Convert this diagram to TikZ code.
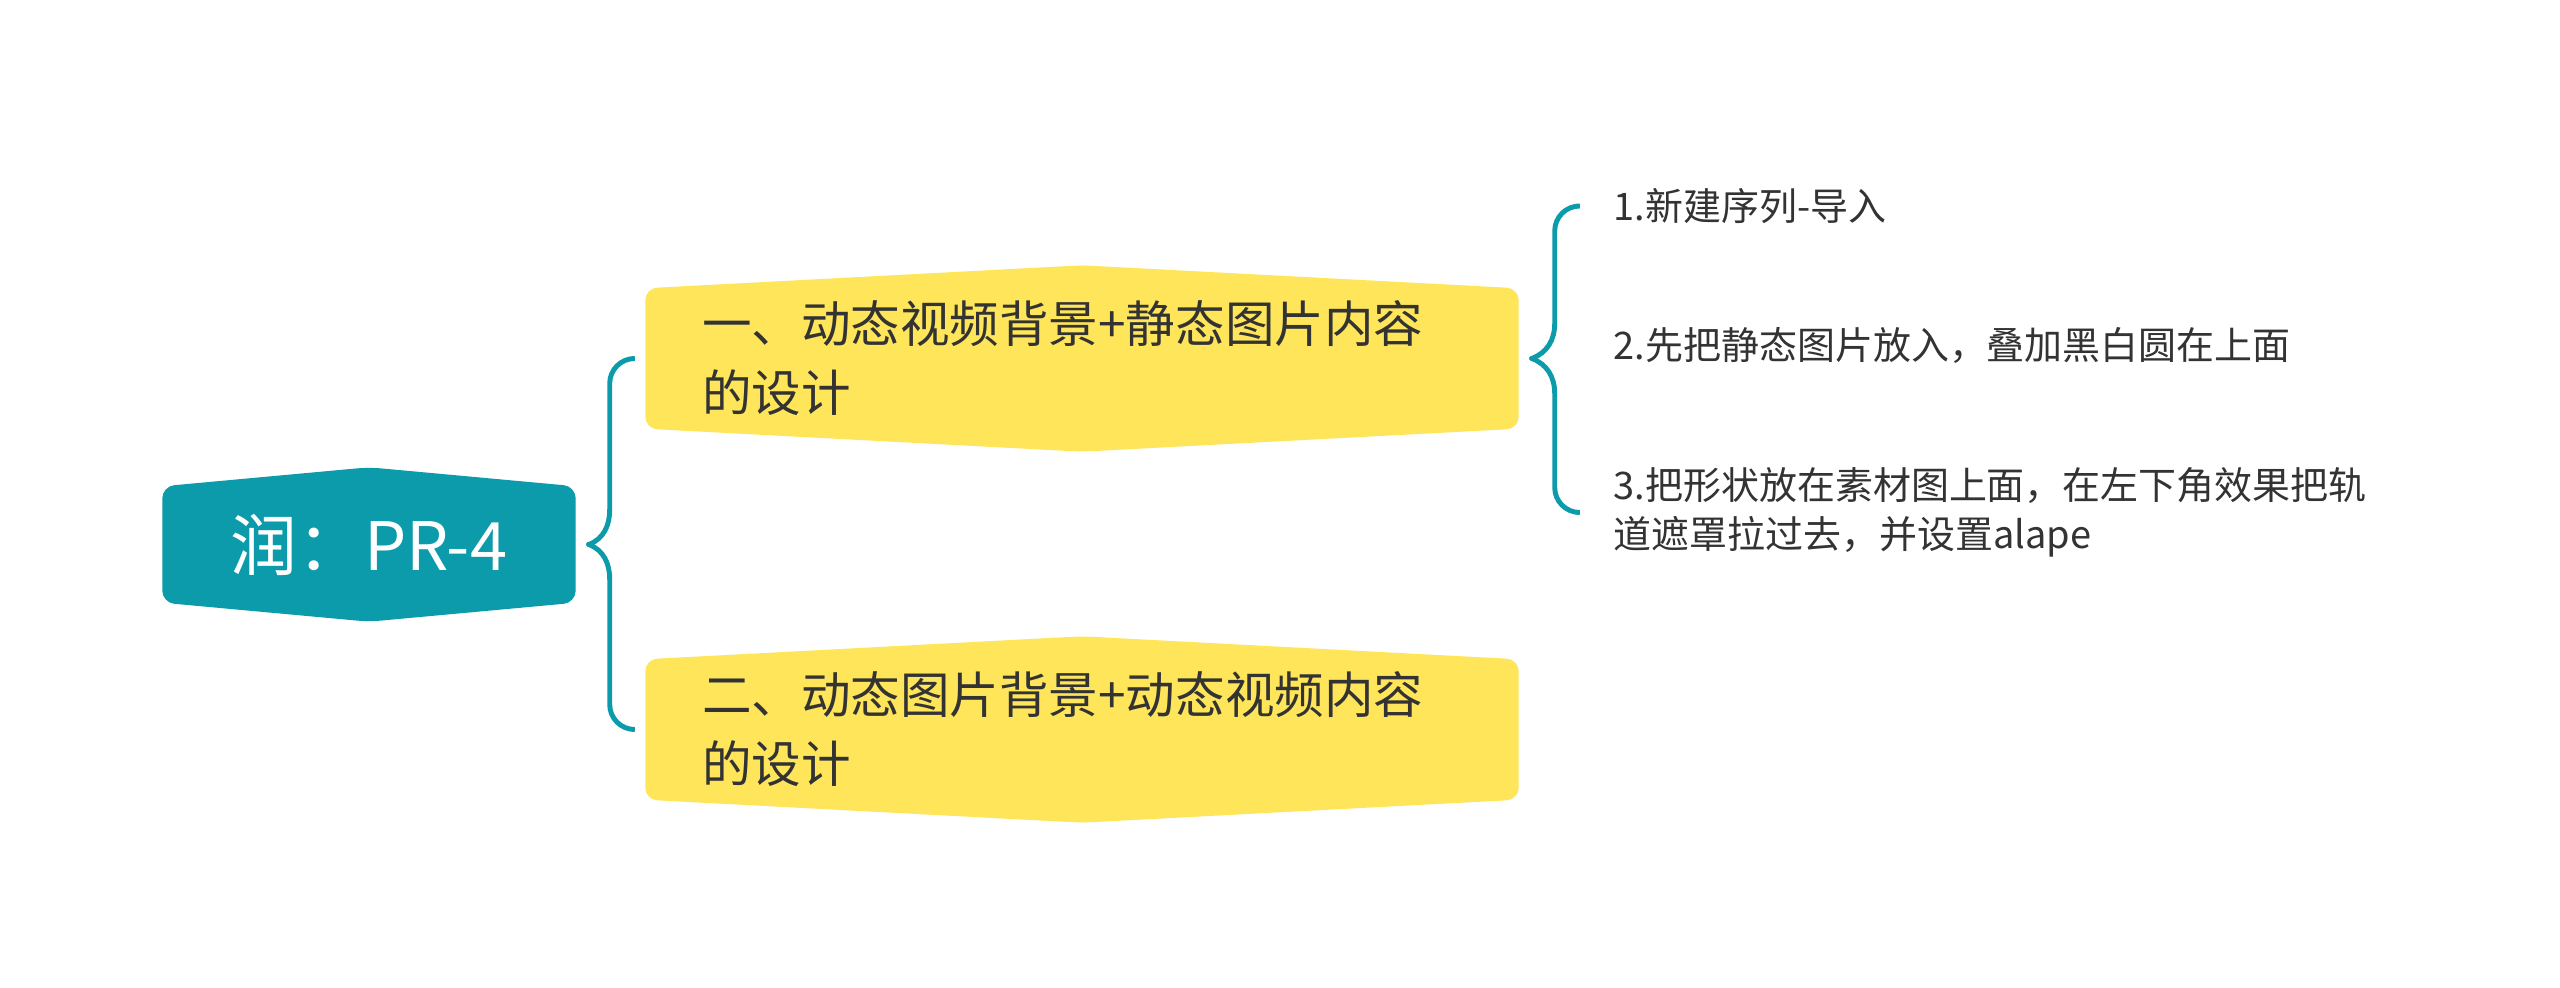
\documentclass[tikz,border=0pt]{standalone}
\usepackage{fontspec}
\setmainfont{Noto Sans CJK SC}
\usetikzlibrary{backgrounds}
\definecolor{Teal}{HTML}{0B9BAA}
\definecolor{Sun}{HTML}{FEE55A}
\definecolor{Ink}{HTML}{333333}

% filled hexagon behind a node: node, colour, peak height
\newcommand{\hexfill}[3]{%
  \fill[#2, rounded corners=0.12cm] (#1.north west) -- ([yshift=#3]#1.north) -- (#1.north east)
    -- (#1.south east) -- ([yshift=-#3]#1.south) -- (#1.south west) -- cycle;}

\begin{document}
\begin{tikzpicture}[rootbox/.style={text=white, minimum width=4.12cm, minimum height=1.15cm, inner sep=0pt, font=\fontsize{19pt}{22pt}\selectfont},branchbox/.style={text=Ink, minimum width=8.72cm, minimum height=1.39cm, inner xsep=0.56cm, inner ysep=0pt, text width=7.6cm, align=left, font=\fontsize{14.1pt}{19.6pt}\selectfont},leaf/.style={text=Ink, inner sep=0pt, anchor=west, align=left, font=\fontsize{10.8pt}{14pt}\selectfont},brace/.style={draw=Teal, line width=1.4pt, line cap=round}]
\useasboundingbox (0,0) rectangle (25.6,9.87);
\node[rootbox] (root) at (3.69,4.425) {润：PR-4};
\node[branchbox] (b1) at (10.82,6.285) {一、动态视频背景+静态图片内容\\的设计};
\node[branchbox] (b2) at (10.82,2.575) {二、动态图片背景+动态视频内容\\的设计};
\node[leaf] (l1) at (16.13,7.81) {1.新建序列-导入};
\node[leaf] (l2) at (16.13,6.41) {2.先把静态图片放入，叠加黑白圆在上面};
\node[leaf] (l3) at (16.13,4.745) {3.把形状放在素材图上面，在左下角效果把轨\\道遮罩拉过去，并设置alape};
\begin{scope}[on background layer]
\fill[white] (0,0) rectangle (25.6,9.87);
\hexfill{root}{Teal}{0.19cm}
\hexfill{b1}{Sun}{0.23cm}
\hexfill{b2}{Sun}{0.23cm}
\end{scope}
% root to main topics
\draw[brace] ([xshift=0.13cm]root.east) to[out=20,in=-90] ++(0.21,0.35) [rounded corners=0.25cm] |- ([xshift=-0.13cm]b1.west);
\draw[brace] ([xshift=0.13cm]root.east) to[out=-20,in=90] ++(0.21,-0.35) [rounded corners=0.25cm] |- ([xshift=-0.13cm]b2.west);
% first topic to its steps
\draw[brace] ([xshift=0.13cm]b1.east) to[out=20,in=-90] ++(0.23,0.35) [rounded corners=0.25cm] |- ([xshift=-0.36cm]l1.west);
\draw[brace] ([xshift=0.13cm]b1.east) to[out=-20,in=90] ++(0.23,-0.35) [rounded corners=0.25cm] |- ([xshift=-0.36cm]l3.west);
\end{tikzpicture}
\end{document}
